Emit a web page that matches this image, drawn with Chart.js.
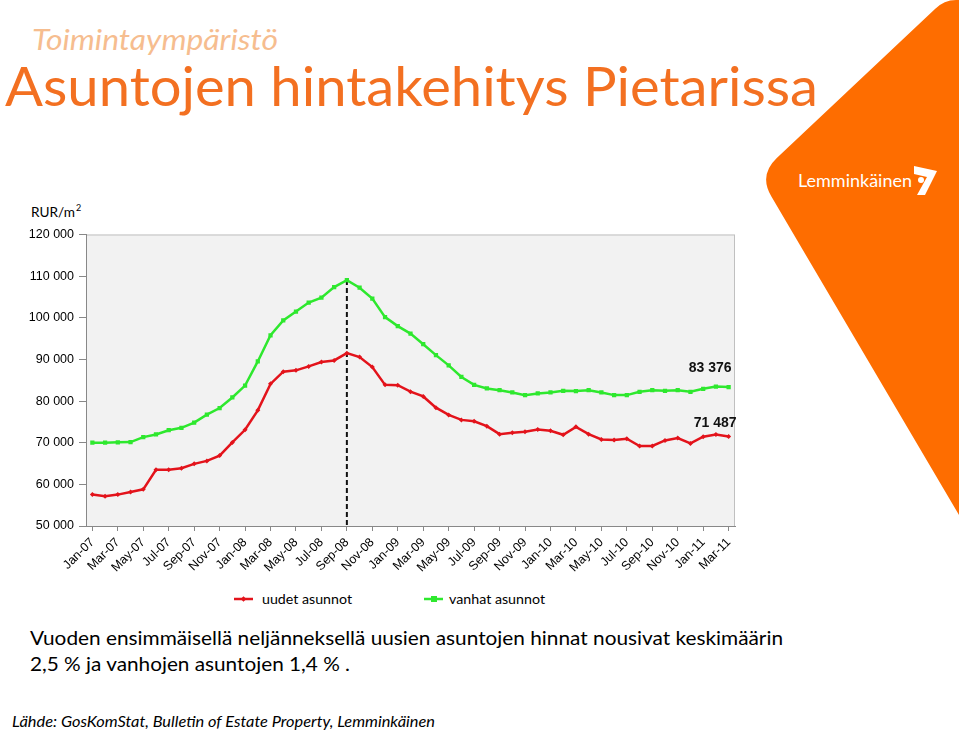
<!DOCTYPE html>
<html>
<head>
<meta charset="utf-8">
<script src="https://cdn.jsdelivr.net/npm/chart.js@4.4.0/dist/chart.umd.min.js"></script>
<style>
    html, body { margin: 0; padding: 0; background: #fff; }
    body { width: 959px; height: 732px; position: relative; overflow: hidden; }
    #deco { position: absolute; left: 0; top: 0; }
    #chartBox { position: absolute; left: 0; top: 222px; width: 745px; height: 354px; }
</style>
</head>
<body>
<svg id="deco" width="959" height="732" xmlns="http://www.w3.org/2000/svg">
    <!-- orange corner shape -->
    <path d="M935,9 Q944,0 956,0 L959,0 L959,515 L771.4,196.6 Q758.6,175.1 776.8,157.9 Z" fill="#fe6d00"/>
    <text x="798" y="187" font-family="Lato" font-size="18" fill="#fff" textLength="114" lengthAdjust="spacingAndGlyphs">Lemminkäinen</text>
    <path d="M914,166 L937,171 L925,195 L917,195 L927,177 L914,174 Z" fill="#fff"/>
    <circle cx="921" cy="180" r="3" fill="#fff"/>

    <text x="32" y="50" font-family="Lato" font-style="italic" font-size="28" fill="#f6bd8f" textLength="246" lengthAdjust="spacingAndGlyphs">Toimintaympäristö</text>
    <text x="5" y="106" font-family="Lato" font-size="54" fill="#f37021" textLength="813" lengthAdjust="spacingAndGlyphs">Asuntojen hintakehitys Pietarissa</text>

    <text x="31" y="217" font-family="Lato" font-size="14" fill="#000" textLength="44" lengthAdjust="spacingAndGlyphs">RUR/m</text>
    <text x="76" y="211" font-family="Lato" font-size="9" fill="#000">2</text>

    <!-- legend -->
    <line x1="234" y1="599" x2="253" y2="599" stroke="#e3131b" stroke-width="2.5"/>
    <rect x="241.5" y="597" width="4" height="4" fill="#e3131b" transform="rotate(45 243.5 599)"/>
    <text x="262" y="604" font-family="Lato" font-size="14" fill="#000" textLength="90" lengthAdjust="spacingAndGlyphs">uudet asunnot</text>
    <line x1="424" y1="599" x2="443" y2="599" stroke="#2ee82e" stroke-width="2.5"/>
    <rect x="431" y="596" width="6" height="6" fill="#2ee82e"/>
    <text x="449" y="604" font-family="Lato" font-size="14" fill="#000" textLength="96" lengthAdjust="spacingAndGlyphs">vanhat asunnot</text>

    <text x="30" y="645" font-family="Lato" font-size="20" fill="#000" textLength="753" lengthAdjust="spacingAndGlyphs">Vuoden ensimmäisellä neljänneksellä uusien asuntojen hinnat nousivat keskimäärin</text>
    <text x="30" y="671" font-family="Lato" font-size="20" fill="#000" textLength="320" lengthAdjust="spacingAndGlyphs">2,5 % ja vanhojen asuntojen 1,4 % .</text>
    <text x="12" y="727" font-family="Lato" font-style="italic" font-size="16" fill="#000" textLength="423" lengthAdjust="spacingAndGlyphs">Lähde:  GosKomStat, Bulletin of Estate Property, Lemminkäinen</text>
</svg>

<div id="chartBox"><canvas id="chart"></canvas></div>

<script>
// Months Jan-07 .. Mar-11
const months = [
    'Jan-07', 'Feb-07', 'Mar-07', 'Apr-07', 'May-07', 'Jun-07', 'Jul-07', 'Aug-07', 'Sep-07', 'Oct-07', 'Nov-07', 'Dec-07',
    'Jan-08', 'Feb-08', 'Mar-08', 'Apr-08', 'May-08', 'Jun-08', 'Jul-08', 'Aug-08', 'Sep-08', 'Oct-08', 'Nov-08', 'Dec-08',
    'Jan-09', 'Feb-09', 'Mar-09', 'Apr-09', 'May-09', 'Jun-09', 'Jul-09', 'Aug-09', 'Sep-09', 'Oct-09', 'Nov-09', 'Dec-09',
    'Jan-10', 'Feb-10', 'Mar-10', 'Apr-10', 'May-10', 'Jun-10', 'Jul-10', 'Aug-10', 'Sep-10', 'Oct-10', 'Nov-10', 'Dec-10',
    'Jan-11', 'Feb-11', 'Mar-11'
];

// uudet asunnot (new flats), RUR/m2
const uudet = [
    57540, 57140, 57540, 58170, 58810, 63490, 63490, 63890, 64920, 65630, 66900, 70080,
    73100, 77780, 84130, 87060, 87380, 88330, 89370, 89760, 91510, 90560, 88170, 83890,
    83810, 82260, 81110, 78410, 76670, 75480, 75160, 73970, 72060, 72380, 72620, 73170,
    72860, 71900, 73810, 72060, 70790, 70630, 70950, 69210, 69210, 70550, 71110, 69840,
    71430, 71980, 71487
];

// vanhat asunnot (old flats), RUR/m2
const vanhat = [
    70000, 70000, 70100, 70150, 71350, 71980, 73000, 73570, 74840, 76750, 78330, 80870,
    83730, 89520, 95800, 99360, 101500, 103650, 104840, 107380, 109050, 107220, 104600, 100160,
    98000, 96200, 93650, 91030, 88570, 85790, 83890, 83020, 82620, 82060, 81430, 81820,
    82060, 82460, 82400, 82620, 82060, 81430, 81430, 82220, 82620, 82460, 82620, 82220,
    82940, 83490, 83376
];

const yMin = 50000;
const yMax = 120000;
const yStep = 10000;
const peakIndex = 20; // Sep-08
const lastLabels = ['83 376', '71 487'];

function fmt(v) {
    return String(v).replace(/\B(?=(\d{3})+(?!\d))/g, ' ');
}

// plot background + border
const plotBg = {
    id: 'plotBg',
    beforeDraw(chart) {
        const { ctx, chartArea: a } = chart;
        ctx.save();
        ctx.fillStyle = '#f2f2f2';
        ctx.fillRect(a.left, a.top, a.right - a.left, a.bottom - a.top);
        ctx.strokeStyle = '#c0c0c0';
        ctx.lineWidth = 1;
        ctx.strokeRect(a.left + 0.5, a.top + 0.5, a.right - a.left - 1, a.bottom - a.top);
        ctx.restore();
    }
};

// dashed peak line and end labels
const marks = {
    id: 'marks',
    beforeDatasetsDraw(chart) {
        const { ctx, chartArea: a, scales } = chart;
        const x = scales.x.getPixelForValue(peakIndex);
        const y = scales.y.getPixelForValue(vanhat[peakIndex]);
        ctx.save();
        ctx.strokeStyle = '#111';
        ctx.lineWidth = 2;
        ctx.setLineDash([5, 3]);
        ctx.beginPath();
        ctx.moveTo(x, y);
        ctx.lineTo(x, a.bottom);
        ctx.stroke();
        ctx.restore();
    },
    afterDatasetsDraw(chart) {
        const { ctx, scales } = chart;
        const last = months.length - 1;
        const x = scales.x.getPixelForValue(last);
        ctx.save();
        ctx.font = 'bold 14px "Liberation Sans", Arial, sans-serif';
        ctx.fillStyle = '#111';
        ctx.textAlign = 'right';
        ctx.fillText(lastLabels[0], x + 3, scales.y.getPixelForValue(vanhat[last]) - 15);
        ctx.fillText(lastLabels[1], x + 8, scales.y.getPixelForValue(uudet[last]) - 10);
        ctx.restore();
    }
};

new Chart(document.getElementById('chart'), {
    type: 'line',
    data: {
        labels: months,
        datasets: [
            {
                label: 'uudet asunnot',
                data: uudet,
                borderColor: '#e3131b',
                backgroundColor: '#e3131b',
                borderWidth: 2.5,
                pointStyle: 'rectRot',
                pointRadius: 2.5,
                pointBorderWidth: 0,
                tension: 0
            },
            {
                label: 'vanhat asunnot',
                data: vanhat,
                borderColor: '#2ee82e',
                backgroundColor: '#2ee82e',
                borderWidth: 2.5,
                pointStyle: 'rect',
                pointRadius: 3,
                pointBorderWidth: 0,
                tension: 0
            }
        ]
    },
    options: {
        responsive: true,
        maintainAspectRatio: false,
        animation: false,
        devicePixelRatio: 1,
        layout: { padding: { top: 10, right: 10, left: 0, bottom: 0 } },
        plugins: {
            legend: { display: false },
            tooltip: { enabled: false }
        },
        scales: {
            x: {
                offset: true,
                grid: {
                    offset: false,
                    drawOnChartArea: false,
                    tickLength: 5,
                    color: ctx => (ctx.index % 2 === 0 ? '#888' : 'rgba(0,0,0,0)')
                },
                border: { color: '#888' },
                ticks: {
                    autoSkip: false,
                    maxRotation: 45,
                    minRotation: 45,
                    padding: 4,
                    color: '#000',
                    font: { family: '"Liberation Sans", Arial, sans-serif', size: 12.5 },
                    callback: (v, i) => (i % 2 === 0 ? months[i] : '')
                },
                afterFit(scale) { scale.height = 50; }
            },
            y: {
                min: yMin,
                max: yMax,
                grid: { drawOnChartArea: false, tickLength: 7, color: '#888' },
                border: { color: '#888' },
                ticks: {
                    stepSize: yStep,
                    padding: 5,
                    color: '#000',
                    font: { family: '"Liberation Sans", Arial, sans-serif', size: 12.5 },
                    callback: v => fmt(v)
                },
                afterFit(scale) { scale.width = 86; }
            }
        }
    },
    plugins: [plotBg, marks]
});
</script>
</body>
</html>
